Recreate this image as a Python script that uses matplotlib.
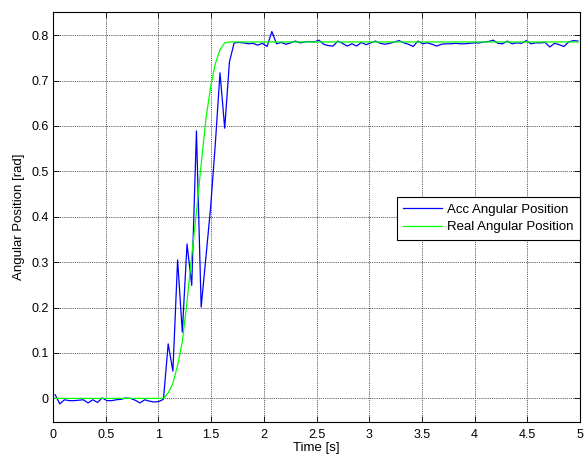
import matplotlib
matplotlib.use('Agg')
import matplotlib.pyplot as plt
import numpy as np

# Sampling of the logged signals
t_start = 0.02
t_step = 0.0447

# Accelerometer based angular position [rad]
acc_angle = [
    0.008, -0.012, -0.003, -0.005, -0.005, -0.004, -0.003, -0.010, -0.003, -0.009,
    0.001, -0.005, -0.005, -0.003, -0.002, 0.001, 0.000, -0.004, -0.010, -0.003,
    -0.006, -0.008, -0.007, -0.002, 0.120, 0.060, 0.305, 0.146, 0.340, 0.249,
    0.589, 0.201, 0.310, 0.420, 0.560, 0.717, 0.595, 0.741, 0.783, 0.784,
    0.783, 0.781, 0.782, 0.778, 0.782, 0.775, 0.808, 0.781, 0.784, 0.780,
    0.783, 0.787, 0.783, 0.785, 0.786, 0.785, 0.789, 0.780, 0.777, 0.776,
    0.787, 0.782, 0.776, 0.781, 0.776, 0.784, 0.779, 0.783, 0.787, 0.782,
    0.780, 0.782, 0.785, 0.788, 0.783, 0.780, 0.775, 0.787, 0.781, 0.783,
    0.780, 0.776, 0.780, 0.781, 0.781, 0.782, 0.781, 0.781, 0.782, 0.783,
    0.783, 0.785, 0.786, 0.789, 0.782, 0.781, 0.787, 0.781, 0.783, 0.782,
    0.788, 0.781, 0.783, 0.783, 0.784, 0.774, 0.782, 0.779, 0.775, 0.785,
    0.788, 0.787,
]

# Reference (real) angular position [rad]
real_angle = [0.0] * 24 + [
    0.012, 0.033, 0.073, 0.125, 0.213, 0.315, 0.410, 0.515, 0.615, 0.685,
    0.737, 0.768, 0.783, 0.785,
] + [0.785] * 74

x_ticks = [0, 0.5, 1, 1.5, 2, 2.5, 3, 3.5, 4, 4.5, 5]
x_tick_labels = ['0', '0.5', '1', '1.5', '2', '2.5', '3', '3.5', '4', '4.5', '5']
y_ticks = [0, 0.1, 0.2, 0.3, 0.4, 0.5, 0.6, 0.7, 0.8]
y_tick_labels = ['0', '0.1', '0.2', '0.3', '0.4', '0.5', '0.6', '0.7', '0.8']


def main():
    plt.rcParams['font.family'] = ['Liberation Sans', 'DejaVu Sans']
    plt.rcParams['font.size'] = 9

    t = t_start + t_step * np.arange(len(acc_angle))

    fig = plt.figure(figsize=(5.86, 4.57), dpi=100)
    ax = fig.add_axes([53 / 586, 35 / 457, 527 / 586, 410 / 457])

    ax.plot(t, acc_angle, color='#0000ff', linewidth=0.9, label='Acc Angular Position')
    ax.plot(t, real_angle, color='#00ff00', linewidth=0.9, label='Real Angular Position')

    ax.set_xlim(0, 5)
    ax.set_ylim(-0.052, 0.851)
    ax.set_xticks(x_ticks)
    ax.set_xticklabels(x_tick_labels)
    ax.set_yticks(y_ticks)
    ax.set_yticklabels(y_tick_labels)
    ax.tick_params(direction='in', top=True, right=True, length=4, width=0.6)
    ax.tick_params(axis='y', pad=3)
    ax.tick_params(axis='x', pad=5)
    for spine in ax.spines.values():
        spine.set_linewidth(0.8)

    # MATLAB style dotted grid
    ax.grid(True, color='#666666', linestyle=(0, (1.2, 1)), linewidth=0.7)

    ax.set_xlabel('Time [s]', fontsize=9.5, labelpad=1)
    ax.set_ylabel('Angular Position [rad]', fontsize=9.5, labelpad=5)

    leg = ax.legend(loc='upper right', bbox_to_anchor=(1.0, 0.549), fancybox=False,
                    framealpha=1, edgecolor='black', fontsize=9.5, handlelength=2.9,
                    borderaxespad=0, borderpad=0.5, labelspacing=0.4, handletextpad=0.4)
    leg.get_frame().set_linewidth(0.8)

    fig.savefig('out.png', dpi=100)


if __name__ == '__main__':
    main()
